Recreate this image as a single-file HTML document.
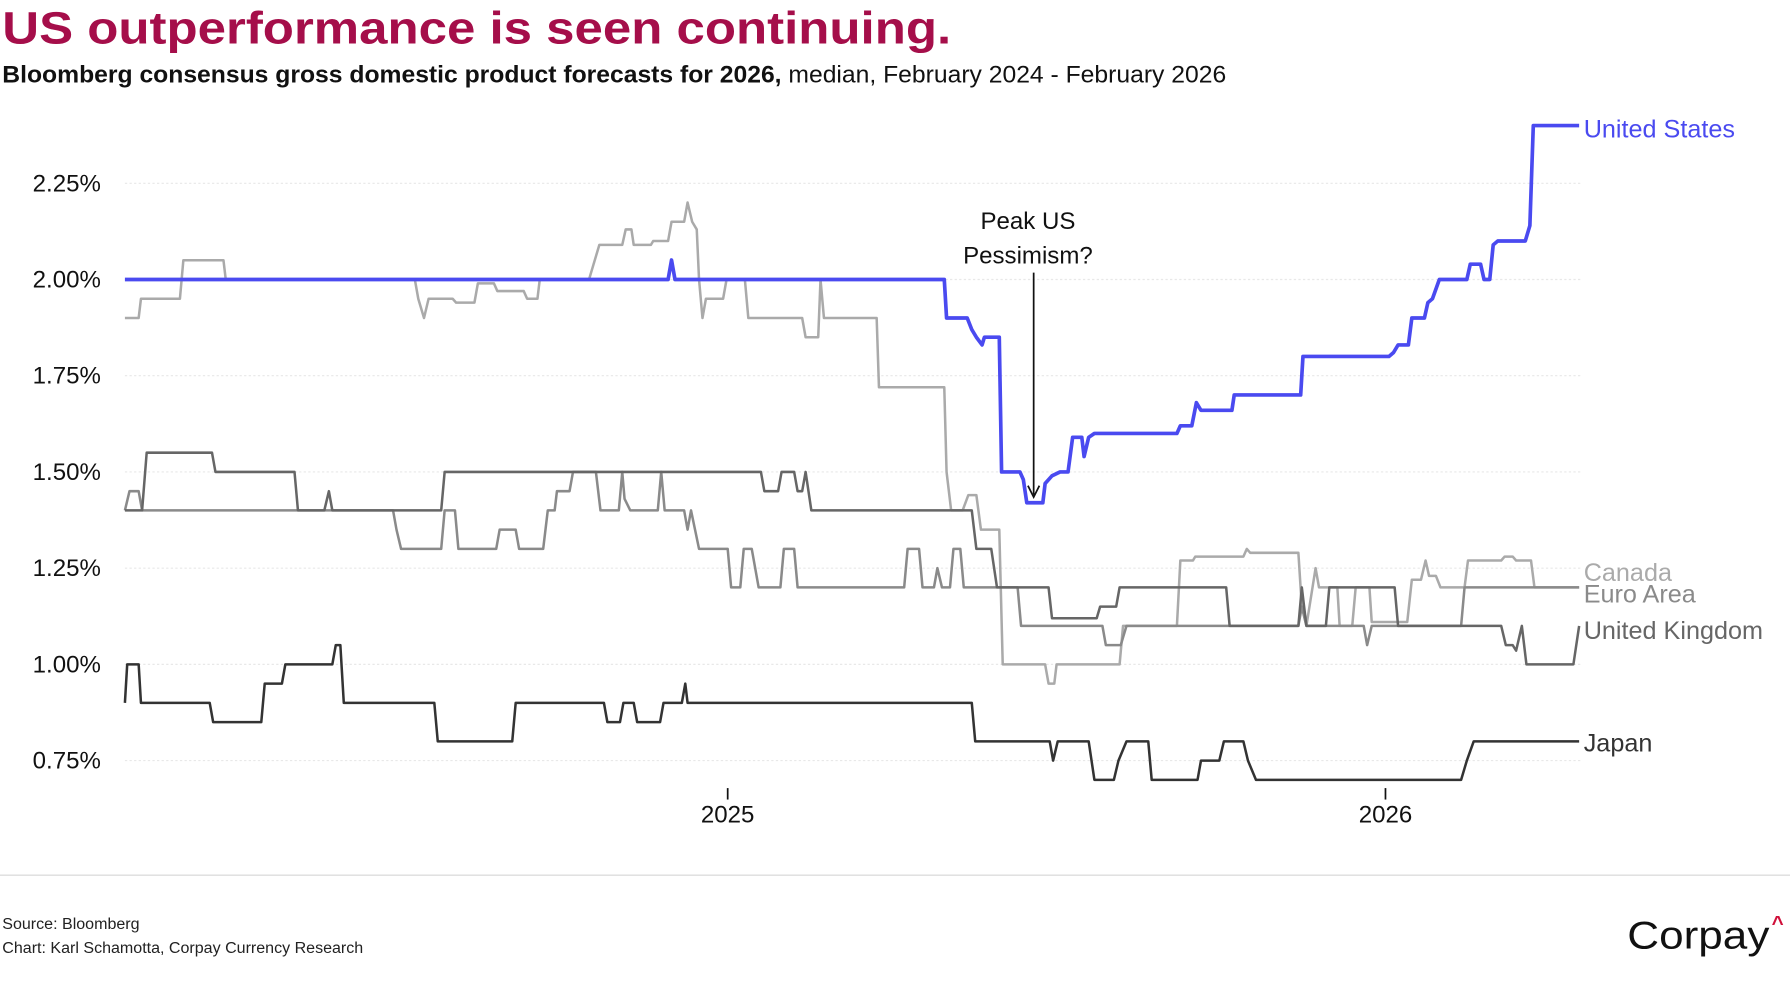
<!DOCTYPE html>
<html><head><meta charset="utf-8"><style>
html,body{margin:0;padding:0;background:#fff;}
svg{display:block;font-family:"Liberation Sans",sans-serif;}
</style></head><body>
<svg width="1790" height="1000" viewBox="0 0 1562 873" preserveAspectRatio="none" xmlns="http://www.w3.org/2000/svg">
<rect width="1562" height="873" fill="#fff"/>
<text x="2" y="38" font-size="40" font-weight="bold" fill="#a50e4a" textLength="828" lengthAdjust="spacingAndGlyphs">US outperformance is seen continuing.</text>
<text x="2" y="72" font-size="21" fill="#111" textLength="1068" lengthAdjust="spacingAndGlyphs"><tspan font-weight="bold">Bloomberg consensus gross domestic product forecasts for 2026,</tspan> median, February 2024 - February 2026</text>
<g stroke="#e8e8e8" stroke-width="1" stroke-dasharray="2,2">
<line x1="109" x2="1380" y1="160" y2="160"/><line x1="109" x2="1380" y1="244" y2="244"/><line x1="109" x2="1380" y1="328" y2="328"/><line x1="109" x2="1380" y1="412" y2="412"/><line x1="109" x2="1380" y1="496" y2="496"/><line x1="109" x2="1380" y1="580" y2="580"/><line x1="109" x2="1380" y1="664" y2="664"/>
</g>
<g font-size="21" fill="#111" text-anchor="end">
<text x="88" y="167">2.25%</text><text x="88" y="251">2.00%</text><text x="88" y="335">1.75%</text><text x="88" y="419">1.50%</text><text x="88" y="503">1.25%</text><text x="88" y="587">1.00%</text><text x="88" y="671">0.75%</text>
</g>
<g stroke="#111" stroke-width="1.5"><line x1="635" x2="635" y1="688" y2="698"/><line x1="1209" x2="1209" y1="688" y2="698"/></g>
<g font-size="21" fill="#111" text-anchor="middle"><text x="635" y="718">2025</text><text x="1209" y="718">2026</text></g>
<g fill="none" stroke-width="2.2" stroke-linejoin="round">
<path stroke="#aaaaaa" d="M109 277.6 H121 L123 260.8 H157 L160 227.2 H195 L197 244 H362 L365 260.8 L370 277.6 L374 260.8 H395 L398 264.2 H414 L417 247.4 H431 L434 254.1 H457 L460 260.8 H469 L471 244 H514 L517 233.9 L523 213.8 H543 L546 200.3 H551 L553 213.8 H568 L570 210.4 H583 L586 193.6 H597 L600 176.8 L604 193.6 L608 200.3 L610 244 L613 277.6 L616 260.8 H631 L634 244 H650 L653 277.6 H700 L703 294.4 H714 L716 244 L719 277.6 H765 L767 338.1 H824 L826 412 L830 445.6 H840 L845 432.2 H852 L856 462.4 H872 L875 580 H912 L915 596.8 H920 L922 580 H977 L980 546.4 H1027 L1030 489.3 H1041 L1043 485.9 H1085 L1088 479.2 L1091 482.6 H1133 L1136 529.6 L1140 546.4 L1148 496 L1151 512.8 H1167 L1169 546.4 H1180 L1183 512.8 H1195 L1197 543 H1228 L1232 506.1 H1240 L1244 489.3 L1247 502.7 H1253 L1257 512.8 H1278 L1281 489.3 H1310 L1313 485.9 H1320 L1323 489.3 H1336 L1339 512.8 H1378"/>
<path stroke="#8a8a8a" d="M109 445.6 L113 428.8 H121 L124 445.6 H343 L346 462.4 L350 479.2 H385 L388 445.6 H397 L400 479.2 H433 L436 462.4 H450 L453 479.2 H474 L478 445.6 H484 L486 428.8 H497 L500 412 H520 L524 445.6 H540 L543 412 L545 435.5 L550 445.6 H574 L577 412 L580 445.6 H597 L600 462.4 L603 445.6 L610 479.2 H635 L638 512.8 H646 L649 479.2 H656 L662 512.8 H681 L684 479.2 H693 L696 512.8 H789 L792 479.2 H802 L805 512.8 H815 L818 496 L822 512.8 H829 L832 479.2 H838 L841 512.8 H888 L891 546.4 H962 L965 563.2 H978 L983 546.4 H1133 L1136 529.6 L1140 546.4 H1190 L1193 563.2 L1197 546.4 H1275 L1278 512.8 H1378"/>
<path stroke="#666666" d="M109 445.6 H124 L128 395.2 H185 L188 412 H257 L260 445.6 H283 L287 428.8 L290 445.6 H385 L388 412 H664 L667 428.8 H679 L682 412 H693 L696 428.8 H700 L703 412 L708 445.6 H848 L852 479.2 H865 L870 512.8 H915 L918 539.7 H957 L960 529.6 H974 L977 512.8 H1070 L1073 546.4 H1133 L1136 512.8 L1140 546.4 H1157 L1160 512.8 H1217 L1220 546.4 H1310 L1314 563.2 H1320 L1323 568 L1328 546.4 L1332 580 H1373 L1378 546.4"/>
<path stroke="#333333" d="M109 613.6 L111 580 H121 L123 613.6 H183 L186 630.4 H228 L231 596.8 H246 L249 580 H290 L293 563.2 H297 L300 613.6 H379 L382 647.2 H447 L450 613.6 H527 L530 630.4 H541 L544 613.6 H553 L556 630.4 H576 L579 613.6 H595 L598 596.8 L600 613.6 H848 L851 647.2 H916 L919 664 L923 647.2 H950 L955 680.8 H972 L976 664 L983 647.2 H1002 L1005 680.8 H1045 L1048 664 H1064 L1068 647.2 H1085 L1089 664 L1096 680.8 H1275 L1280 664 L1286 647.2 H1378"/>
<path stroke="#4a4af0" stroke-width="3.2" d="M109 244 H583 L586 227 L589 244 H824 L826 277.6 H844 L848 287.7 L852 294.4 L857 301.1 L859 294.4 H872 L874 412 H890 L893 418.7 L896 438.9 H910 L912 422.1 L918 415.4 L925 412 H932 L936 381.8 H944 L946 398.6 L950 381.8 L955 378.4 H1027 L1030 371.7 H1040 L1044 351.5 L1048 358.2 H1075 L1077 344.8 H1135 L1137 311.2 H1212 L1216 307.8 L1220 301.1 H1229 L1232 277.6 H1243 L1246 264.2 L1250 260.8 L1256 244 H1280 L1283 230.6 H1292 L1295 244 H1300 L1303 213.8 L1307 210.4 H1331 L1335 197 L1338 109.6 H1378"/>
</g>
<g font-size="21" fill="#111" text-anchor="middle"><text x="897" y="200">Peak US</text><text x="897" y="230">Pessimism?</text></g>
<line x1="902" y1="238" x2="902" y2="432" stroke="#111" stroke-width="1.5"/>
<path d="M897 424 L902 434 L907 424" fill="none" stroke="#111" stroke-width="1.5"/>
<g font-size="22">
<text x="1382" y="120" fill="#4a4af0">United States</text>
<text x="1382" y="507" fill="#aaaaaa">Canada</text>
<text x="1382" y="526" fill="#8a8a8a">Euro Area</text>
<text x="1382" y="558" fill="#666666">United Kingdom</text>
<text x="1382" y="656" fill="#333333">Japan</text>
</g>
<line x1="0" x2="1562" y1="764" y2="764" stroke="#dddddd" stroke-width="1.2"/>
<text x="2" y="811" font-size="14" fill="#222">Source: Bloomberg</text>
<text x="2" y="832" font-size="14" fill="#222">Chart: Karl Schamotta, Corpay Currency Research</text>
<text x="1420" y="828" font-size="34" fill="#111" textLength="124" lengthAdjust="spacingAndGlyphs">Corpay</text>
<text x="1546" y="812" font-size="18" font-weight="bold" fill="#d0103a">^</text>
</svg>
</body></html>
